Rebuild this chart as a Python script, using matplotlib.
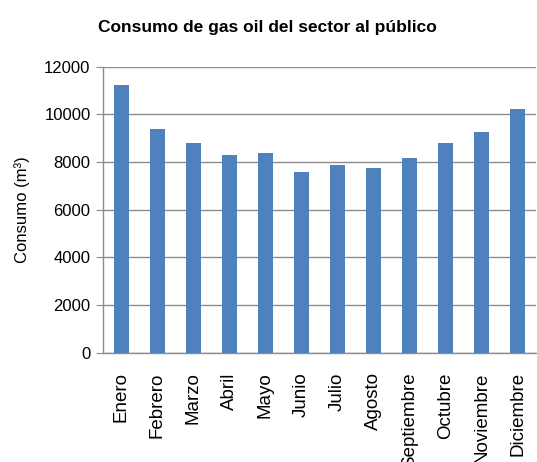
import matplotlib
matplotlib.use('Agg')
import matplotlib.pyplot as plt

# monthly gas oil consumption (m3)
months = ['Enero', 'Febrero', 'Marzo', 'Abril', 'Mayo', 'Junio', 'Julio',
          'Agosto', 'Septiembre', 'Octubre', 'Noviembre', 'Diciembre']
consumo = [11230, 9370, 8800, 8300, 8370, 7590, 7880, 7740, 8160, 8800, 9250, 10230]
yticks = [0, 2000, 4000, 6000, 8000, 10000, 12000]

plt.rcParams['font.family'] = ['Liberation Sans', 'DejaVu Sans']

fig = plt.figure(figsize=(5.37, 4.62), dpi=100)
ax = fig.add_axes([0.192, 0.2366, 0.806, 0.619])

x = range(len(months))
ax.bar(x, consumo, width=0.42, color='#4F81BD', zorder=3)

ax.set_xlim(-0.5, len(months) - 0.5)
ax.set_ylim(0, 12000)
ax.set_yticks(yticks)
ax.set_yticklabels([str(v) for v in yticks], fontsize=12)
ax.set_xticks(list(x))
ax.set_xticklabels(months, rotation=90, fontsize=13.5)
ax.tick_params(axis='x', length=0, pad=14)
ax.tick_params(axis='y', length=5, color='#8c8c8c', pad=4)

ax.yaxis.grid(True, color='#8c8c8c', linewidth=1.0, zorder=0)
ax.set_axisbelow(True)
for side in ['top', 'right']:
    ax.spines[side].set_visible(False)
for side in ['left', 'bottom']:
    ax.spines[side].set_color('#8c8c8c')
    ax.spines[side].set_linewidth(1.0)

ax.set_ylabel('Consumo (m³)', fontsize=12, labelpad=10)
fig.text(0.497, 0.94, 'Consumo de gas oil del sector al público',
         ha='center', va='center', fontsize=12.5, fontweight='bold')

fig.savefig('out.png', dpi=100)
